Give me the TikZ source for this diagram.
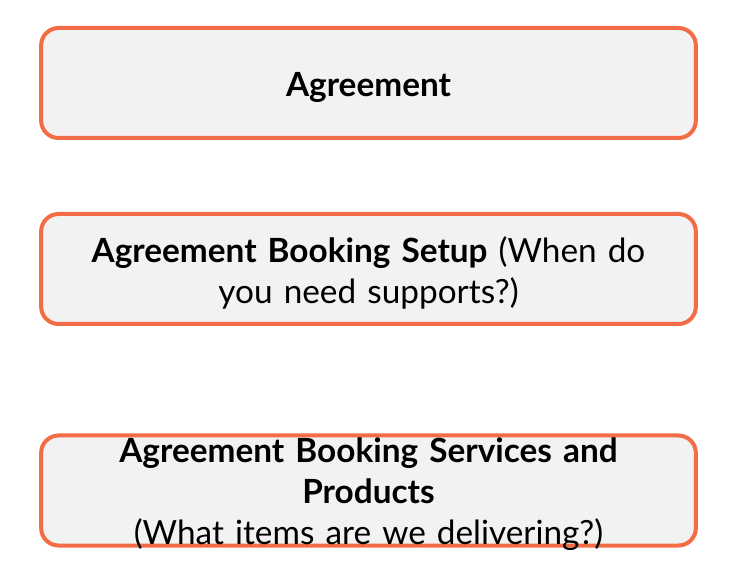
\documentclass[tikz,border=0pt]{standalone}
\usepackage{fontspec}
\setmainfont{Lato}
\definecolor{boxline}{HTML}{F26D45}
\definecolor{boxfill}{HTML}{F2F2F2}
\begin{document}
\begin{tikzpicture}[x=0.75pt,y=-0.75pt,
  card/.style={draw=boxline,fill=boxfill,line width=3pt,rounded corners=13pt,minimum width=491pt,minimum height=82.5pt,inner sep=0pt},
  label/.style={align=center,font=\fontsize{25}{30.75}\selectfont,text width=560pt,inner sep=0pt}]
\useasboundingbox (0,0) rectangle (750,584);
\node[card] (b1) at (368.5,83) {};
\node[card] (b2) at (368.5,269) {};
\node[card] (b3) at (368.5,490.5) {};
\node[label,yshift=-3.5pt] (t1) at (b1.center) {\textbf{Agreement}};
\node[label,yshift=-3pt] (t2) at (b2.center) {\textbf{Agreement Booking Setup} (When do\\ you need supports?)};
\node[label,yshift=-3pt] (t3) at (b3.center) {\textbf{Agreement Booking Services and}\\ \textbf{Products}\\ (What items are we delivering?)};
\end{tikzpicture}
\end{document}
